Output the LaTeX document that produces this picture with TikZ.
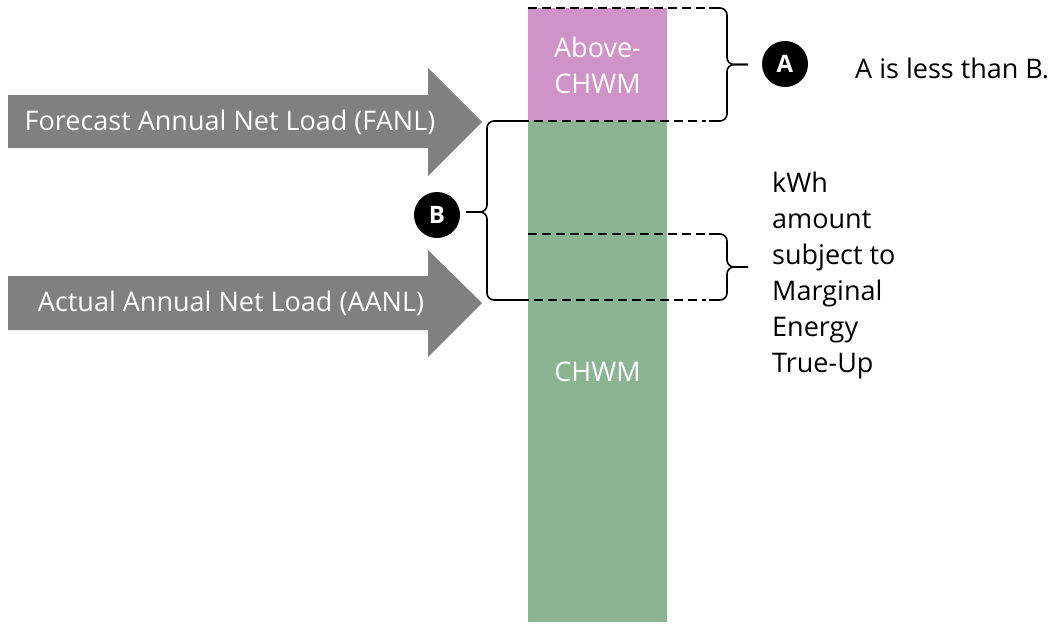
\documentclass[tikz,border=0pt]{standalone}
\usepackage{fontspec}
\setmainfont{Open Sans}
\definecolor{arrowgray}{HTML}{808080}
\definecolor{abovepink}{HTML}{CF93C7}
\definecolor{chwmgreen}{HTML}{8BB592}
\tikzset{
  txt/.style={font=\fontsize{27}{36}\selectfont, inner sep=0pt},
  wtxt/.style={txt, text=white},
  badge/.style={circle, fill=black, text=white, minimum size=46pt, inner sep=0pt,
                font=\bfseries\fontsize{24}{28}\selectfont},
  guide/.style={dash pattern=on 9pt off 5pt, line width=1.6pt},
  bracer/.style={line width=1.6pt, rounded corners=7pt},
  bigarrow/.style={fill=arrowgray, draw=none}
}
\begin{document}
\begin{tikzpicture}[x=1pt, y=-1pt]
\useasboundingbox (0,0) rectangle (1058,624);

% stacked bar
\fill[abovepink] (528,8) rectangle (667,121);
\fill[chwmgreen] (528,121) rectangle (667,622);
\node[wtxt, align=center] (above) at (597.5,65) {Above-\\CHWM};
\node[wtxt] (chwm) at (597.5,372) {CHWM};

% load arrows
\fill[bigarrow] (8,95) -- (428,95) -- (428,68) -- (482,122) -- (428,176) -- (428,148) -- (8,148) -- cycle;
\fill[bigarrow] (8,276) -- (428,276) -- (428,250) -- (482,303) -- (428,357) -- (428,330) -- (8,330) -- cycle;
\node[wtxt] (fanl) at (230,122) {Forecast Annual Net Load (FANL)};
\node[wtxt] (aanl) at (231,303) {Actual Annual Net Load (AANL)};

% level guides
\coordinate (t0) at (528,8);    \coordinate (t1) at (706,8);
\coordinate (f0) at (520,121);  \coordinate (f1) at (706,121);
\coordinate (m0) at (528,234);  \coordinate (m1) at (706,234);
\coordinate (a0) at (520,300);  \coordinate (a1) at (706,300);
\draw[guide] (t0) -- (t1);
\draw[guide] (f0) -- (f1);
\draw[guide] (m0) -- (m1);
\draw[guide] (a0) -- (a1);

% braces (drawn as two rounded halves meeting at the tip)
\coordinate (tipA) at (748,64.5);
\coordinate (tipM) at (748,267);
\coordinate (tipB) at (466,212);
\draw[bracer] (709,8) -- (727,8) -- (727,64.5) -- (tipA);
\draw[bracer] (709,121) -- (727,121) -- (727,64.5) -- (tipA);
\draw[bracer] (709,234) -- (727,234) -- (727,267) -- (tipM);
\draw[bracer] (709,300) -- (727,300) -- (727,267) -- (tipM);
\draw[bracer] (f0) -- (487,121) -- (487,212) -- (tipB);
\draw[bracer] (a0) -- (487,300) -- (487,212) -- (tipB);

% badges and notes
\node[badge] (A) at (785,64) {A};
\node[badge] (B) at (437,215) {B};
\node[txt, anchor=west] (note) at (855,68) {A is less than B.};
\node[txt, anchor=north west, align=left] (mtu) at (772,172)
  {kWh\\amount\\subject to\\Marginal\\Energy\\True-Up};
\end{tikzpicture}
\end{document}
